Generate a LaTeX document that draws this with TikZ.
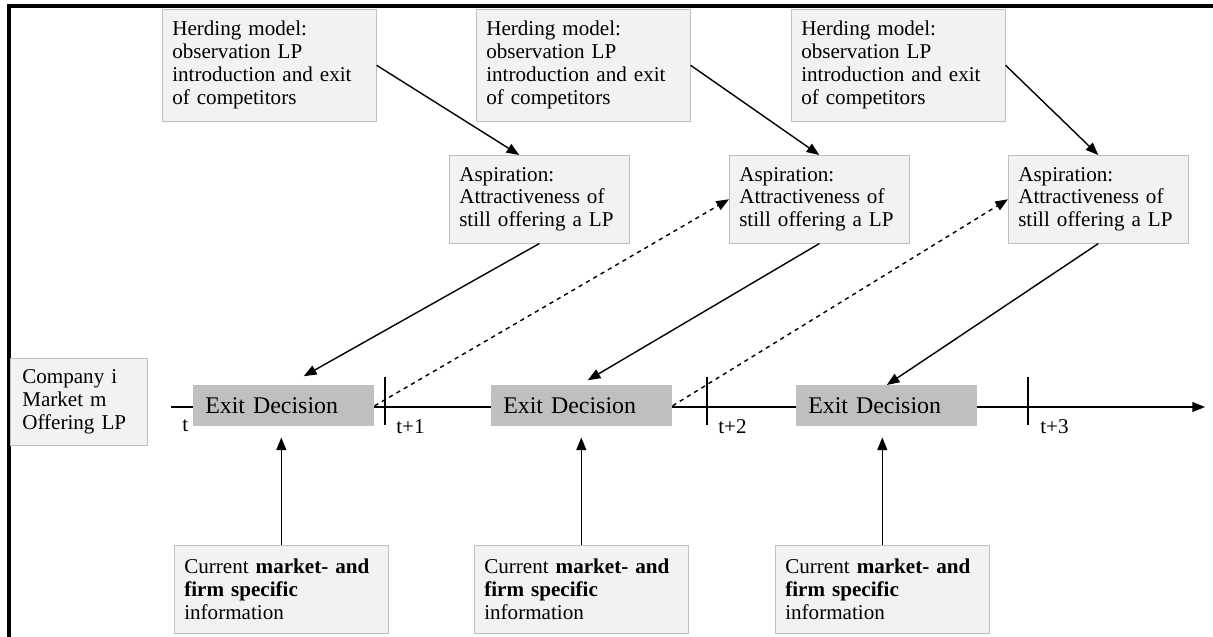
\documentclass[tikz,border=0pt]{standalone}
\usepackage{fontspec}
\setmainfont{Liberation Serif}
\usepackage{tikz}
\usetikzlibrary{arrows.meta}

\definecolor{boxfill}{RGB}{242,242,242}
\definecolor{boxline}{RGB}{191,191,191}
\definecolor{exitfill}{RGB}{191,191,191}

\begin{document}
\begin{tikzpicture}[x=0.025cm,y=-0.025cm,
    >={Triangle[length=9pt,width=7pt]},
    txt/.style={font=\fontsize{15}{16.3}\selectfont},
    herdbox/.style={txt,draw=boxline,fill=boxfill,anchor=north west,align=left,
      inner xsep=0.25cm,text width=4.85cm,minimum height=2.8cm},
    aspbox/.style={txt,draw=boxline,fill=boxfill,anchor=north west,align=left,
      inner xsep=0.25cm,text width=4cm,minimum height=2.2cm},
    exitbox/.style={fill=exitfill,anchor=north west,align=left,
      font=\fontsize{17}{19}\selectfont,
      inner xsep=0.3cm,text width=3.925cm,minimum height=1.025cm},
    infobox/.style={txt,draw=boxline,fill=boxfill,anchor=north west,align=left,
      inner xsep=0.25cm,text width=4.85cm,minimum height=2.2cm},
    arr/.style={->,line width=1pt},
    tick/.style={line width=1pt}]
  \useasboundingbox (0,0) rectangle (1213,637);
  % frame
  \draw[line width=2.2pt]
    (9,637)
    --
    (9,6)
    --
    (1213,6);
  % time axis
  \coordinate (tstart) at (171,407);
  \coordinate (tend) at (1205,407);
  \draw[arr] (tstart) -- (tend);
  \draw[tick] (385,377) -- (385,425);
  \draw[tick] (707,377) -- (707,425);
  \draw[tick] (1028,377) -- (1028,425);
  \node[txt,anchor=north west,inner sep=0pt] (lt0) at (182,419) {t};
  \node[txt,anchor=north west,inner sep=0pt] (lt1) at (396,419) {t+1};
  \node[txt,anchor=north west,inner sep=0pt] (lt2) at (718,419) {t+2};
  \node[txt,anchor=north west,inner sep=0pt] (lt3) at (1040,419) {t+3};

  \node[txt,draw=boxline,fill=boxfill,anchor=north west,align=left,
    inner xsep=0.3cm,text width=2.825cm,minimum height=2.175cm]
    (company) at (10,358) {Company i\\Market m\\Offering LP};

  \node[herdbox] (herd1) at (162,9)
    {Herding model:\\observation LP\\introduction and exit\\of competitors};
  \node[herdbox] (herd2) at (476,9)
    {Herding model:\\observation LP\\introduction and exit\\of competitors};
  \node[herdbox] (herd3) at (791,9)
    {Herding model:\\observation LP\\introduction and exit\\of competitors};

  \node[aspbox] (asp1) at (449,155)
    {Aspiration:\\Attractiveness of\\still offering a LP};
  \node[aspbox] (asp2) at (729,155)
    {Aspiration:\\Attractiveness of\\still offering a LP};
  \node[aspbox] (asp3) at (1008,155)
    {Aspiration:\\Attractiveness of\\still offering a LP};

  \node[exitbox] (exit1) at (193,385) {Exit Decision};
  \node[exitbox] (exit2) at (491,385) {Exit Decision};
  \node[exitbox] (exit3) at (796,385) {Exit Decision};

  \node[infobox] (info1) at (174,545)
    {Current \textbf{market- and}\\\textbf{firm specific}\\information};
  \node[infobox] (info2) at (474,545)
    {Current \textbf{market- and}\\\textbf{firm specific}\\information};
  \node[infobox] (info3) at (775,545)
    {Current \textbf{market- and}\\\textbf{firm specific}\\information};

  % herding -> aspiration
  \draw[arr] (herd1.east) -- ([xshift=-0.5cm]asp1.north);
  \draw[arr] (herd2.east) -- (asp2.north);
  \draw[arr] (herd3.east) -- (asp3.north);
  % aspiration -> exit
  \draw[arr] (asp1.south) -- ([xshift=0.5cm,yshift=0.22cm]exit1.north);
  \draw[arr] (asp2.south) -- ([xshift=0.15cm,yshift=0.12cm]exit2.north);
  \draw[arr] (asp3.south) -- (exit3.north);
  % exit -> next aspiration
  \draw[arr,dashed] (exit1.east) -- (asp2.west);
  \draw[arr,dashed] (exit2.east) -- (asp3.west);
  % information -> exit
  \draw[arr] (info1.north) -- ([yshift=-0.27cm]info1.north |- exit1.south);
  \draw[arr] (info2.north) -- ([yshift=-0.27cm]info2.north |- exit2.south);
  \draw[arr] (info3.north) -- ([yshift=-0.27cm]info3.north |- exit3.south);
\end{tikzpicture}
\end{document}
